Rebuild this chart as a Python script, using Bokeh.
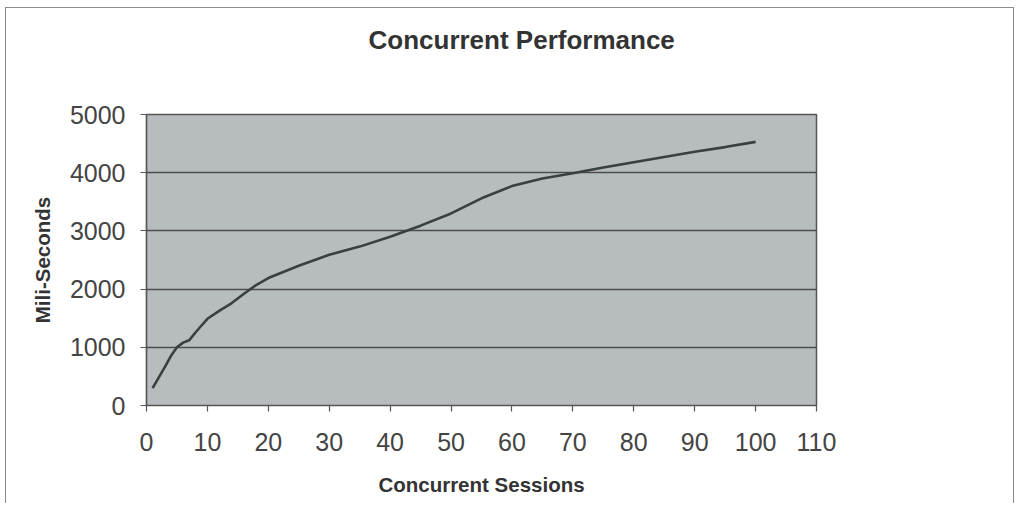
from bokeh.plotting import figure
from bokeh.models import Range1d, FixedTicker, Title, LinearAxis
from bokeh.embed import file_html
from bokeh.resources import INLINE

# Data
sessions = [1, 2, 3, 4, 5, 6, 7, 8, 9, 10, 12, 14, 16, 18, 20, 25, 30, 35, 40,
            45, 50, 55, 60, 65, 70, 75, 80, 85, 90, 95, 100]
millis = [300, 480, 660, 850, 1000, 1080, 1120, 1250, 1370, 1490, 1630, 1760,
          1920, 2070, 2190, 2400, 2590, 2730, 2900, 3090, 3300, 3560, 3770,
          3900, 3990, 4090, 4180, 4270, 4360, 4440, 4530]
x_ticks = [0, 10, 20, 30, 40, 50, 60, 70, 80, 90, 100, 110]
y_ticks = [0, 1000, 2000, 3000, 4000, 5000]

title_text = "Concurrent Performance"
x_title = "Concurrent Sessions"
y_title = "Mili-Seconds"

FONT = "Liberation Sans"

p = figure(width=1014, height=503,
           x_range=Range1d(0, 110), y_range=Range1d(0, 5000),
           output_backend="svg", toolbar_location=None,
           min_border_left=146, min_border_right=198,
           min_border_top=114, min_border_bottom=98)

g = "linear-gradient(#8c8c8c,#8c8c8c)"
p.styles = {
    "background": (f"{g} 5px 7px / 1px calc(100% - 7px) no-repeat, "
                   f"{g} 5px 7px / calc(100% - 5px) 1px no-repeat, "
                   f"{g} right 0px top 7px / 1px calc(100% - 7px) no-repeat, "
                   "white")
}
p.border_fill_color = None

xax = p.below[0]
yax = p.left[0]
xax.ticker = FixedTicker(ticks=x_ticks)
yax.ticker = FixedTicker(ticks=y_ticks)

# invisible spacer between the plot frame and the chart title
spacer = LinearAxis(ticker=FixedTicker(ticks=[0]), axis_line_color=None,
                    major_tick_out=55, major_tick_in=0, minor_tick_out=0,
                    major_tick_line_color=None, minor_tick_line_color=None,
                    major_label_overrides={0: ""}, major_label_standoff=0,
                    major_label_text_font_size="1px")
p.add_layout(spacer, "above")

title = Title(text=title_text, align="left", offset=222, standoff=10,
              text_font=FONT, text_font_size="26px", text_font_style="bold",
              text_color="#333333")
p.add_layout(title, "above")

p.background_fill_color = "#b7bcbf"
p.outline_line_color = "#555555"
p.outline_line_width = 1.5

for ax in (xax, yax):
    ax.axis_line_color = "#555555"
    ax.axis_line_width = 1.2
    ax.major_tick_line_color = "#555555"
    ax.major_tick_line_width = 1.2
    ax.major_tick_out = 6
    ax.major_tick_in = 0
    ax.minor_tick_line_color = None
    ax.major_label_text_font = FONT
    ax.major_label_text_font_size = "25px"
    ax.major_label_text_color = "#444444"
    ax.axis_label_text_font = FONT
    ax.axis_label_text_font_size = "20.5px"
    ax.axis_label_text_font_style = "bold"
    ax.axis_label_text_color = "#333333"

xax.axis_label = x_title
yax.axis_label = y_title
yax.major_label_standoff = 15
xax.major_label_standoff = 21
yax.axis_label_standoff = 13
xax.axis_label_standoff = 19

p.xgrid.visible = False
p.ygrid.ticker = FixedTicker(ticks=y_ticks)
p.ygrid.grid_line_color = "#4d4d4d"
p.ygrid.grid_line_width = 1.3

p.line(sessions, millis, line_color="#384040", line_width=2.6)

open("out.html", "w").write(file_html(p, INLINE))
